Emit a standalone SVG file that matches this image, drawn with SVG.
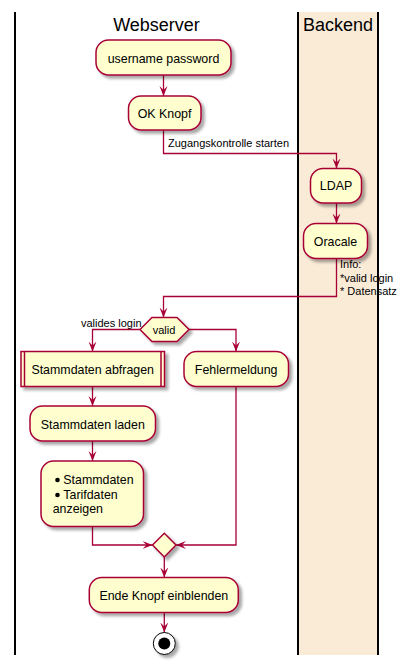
<svg xmlns="http://www.w3.org/2000/svg" width="407" height="670" viewBox="0 0 407 670">
<style>
.lane{stroke:#000;stroke-width:2;fill:none}
.title{font-family:"Liberation Sans",Arial,sans-serif;font-size:18px;fill:#000;text-anchor:middle}
.box{fill:#FEFECE;stroke:#A80036;stroke-width:1.5;filter:url(#sh)}
.t{font-family:"Liberation Sans",Arial,sans-serif;font-size:12.4px;fill:#000}
.c{text-anchor:middle}
.lbl{font-family:"Liberation Sans",Arial,sans-serif;font-size:11px;fill:#000}
.ln{fill:none;stroke:#A80036;stroke-width:1.3}
</style>
<defs>
<filter id="sh" x="-20%" y="-20%" width="150%" height="160%">
<feGaussianBlur in="SourceAlpha" stdDeviation="1.5"/>
<feOffset dx="3" dy="3" result="b"/>
<feComponentTransfer><feFuncA type="linear" slope="0.35"/></feComponentTransfer>
<feMerge><feMergeNode/><feMergeNode in="SourceGraphic"/></feMerge>
</filter>
<marker id="arr" viewBox="0 0 10 10" refX="10" refY="5" markerWidth="10" markerHeight="10" markerUnits="userSpaceOnUse" orient="auto">
<path d="M0,1 L10,5 L0,9 L4,5 Z" fill="#A80036"/>
</marker>
</defs>

<g id="lanes">
<rect x="298" y="12" width="80" height="643" fill="#FAEBD7"/>
<line class="lane" x1="15" y1="12" x2="15" y2="655"/>
<line class="lane" x1="298" y1="12" x2="298" y2="655"/>
<line class="lane" x1="378" y1="12" x2="378" y2="655"/>
<text class="title" x="156.5" y="31">Webserver</text>
<text class="title" x="338" y="31">Backend</text>
</g>

<g id="connectors">
<path class="ln" d="M163.5,75 V96" marker-end="url(#arr)"/>
<path class="ln" d="M163.5,130 V153.5 H336.5 V168.5" marker-end="url(#arr)"/>
<text class="lbl" x="168" y="147">Zugangskontrolle starten</text>
<path class="ln" d="M336.5,203 V223.5" marker-end="url(#arr)"/>
<path class="ln" d="M336.5,258.5 V296.5 H163.5 V317.5" marker-end="url(#arr)"/>
<text class="lbl" x="340" y="268">Info:</text>
<text class="lbl" x="340" y="281.5">*valid login</text>
<text class="lbl" x="340" y="295">* Datensatz</text>
<path class="ln" d="M140,329.5 H92.5 V351.5" marker-end="url(#arr)"/>
<text class="lbl" x="81" y="326.5">valides login</text>
<path class="ln" d="M189,329.5 H236 V351.5" marker-end="url(#arr)"/>
<path class="ln" d="M92.5,386.5 V406" marker-end="url(#arr)"/>
<path class="ln" d="M92.5,441 V461" marker-end="url(#arr)"/>
<path class="ln" d="M92.5,526.5 V545 H152.5" marker-end="url(#arr)"/>
<path class="ln" d="M236,386.5 V545 H176" marker-end="url(#arr)"/>
<path class="ln" d="M164.3,557 V577.5" marker-end="url(#arr)"/>
<path class="ln" d="M164.3,612.5 V632.5" marker-end="url(#arr)"/>
</g>

<g id="n1">
<rect class="box" x="96" y="40" width="135" height="35" rx="12.5"/>
<text class="t c" x="163.5" y="62.5">username password</text>
</g>
<g id="n2">
<rect class="box" x="128.5" y="96" width="72.5" height="34" rx="12.5"/>
<text class="t c" x="164.5" y="117.5">OK Knopf</text>
</g>
<g id="n3">
<rect class="box" x="310.5" y="168.5" width="51" height="34.5" rx="12.5"/>
<text class="t c" x="336" y="190">LDAP</text>
</g>
<g id="n4">
<rect class="box" x="303.5" y="223.5" width="64" height="35" rx="12.5"/>
<text class="t c" x="335.5" y="245.5">Oracale</text>
</g>
<g id="n5">
<polygon class="box" points="140,329.5 152,317.5 177,317.5 189,329.5 177,341.5 152,341.5"/>
<text class="lbl c" x="164" y="333.5">valid</text>
</g>
<g id="n6">
<rect class="box" x="21" y="351.5" width="143.5" height="35"/>
<line x1="24.5" y1="351.5" x2="24.5" y2="386.5" stroke="#A80036" stroke-width="1.5"/>
<line x1="161" y1="351.5" x2="161" y2="386.5" stroke="#A80036" stroke-width="1.5"/>
<text class="t c" x="92.7" y="374">Stammdaten abfragen</text>
</g>
<g id="n7">
<rect class="box" x="184" y="351.5" width="104.5" height="35" rx="12.5"/>
<text class="t c" x="236.2" y="374">Fehlermeldung</text>
</g>
<g id="n8">
<rect class="box" x="30" y="406" width="125.5" height="35" rx="12.5"/>
<text class="t c" x="92.8" y="428.5">Stammdaten laden</text>
</g>
<g id="n9">
<rect class="box" x="41" y="461" width="102.5" height="65.5" rx="12.5"/>
<circle cx="57.5" cy="480" r="2.3" fill="#000"/>
<text class="t" x="63.3" y="484">Stammdaten</text>
<circle cx="57.5" cy="495" r="2.3" fill="#000"/>
<text class="t" x="63.3" y="499">Tarifdaten</text>
<text class="t" x="52.7" y="513">anzeigen</text>
</g>
<g id="n10">
<polygon class="box" points="152.5,545 164.3,533.3 176,545 164.3,557"/>
</g>
<g id="n11">
<rect class="box" x="89.3" y="577.5" width="149" height="35" rx="12.5"/>
<text class="t c" x="163.8" y="600">Ende Knopf einblenden</text>
</g>
<g id="n12">
<circle cx="164.3" cy="643.5" r="11" fill="#fff" stroke="#000" stroke-width="1" filter="url(#sh)"/>
<circle cx="164.3" cy="643.5" r="6" fill="#000"/>
</g>
</svg>
